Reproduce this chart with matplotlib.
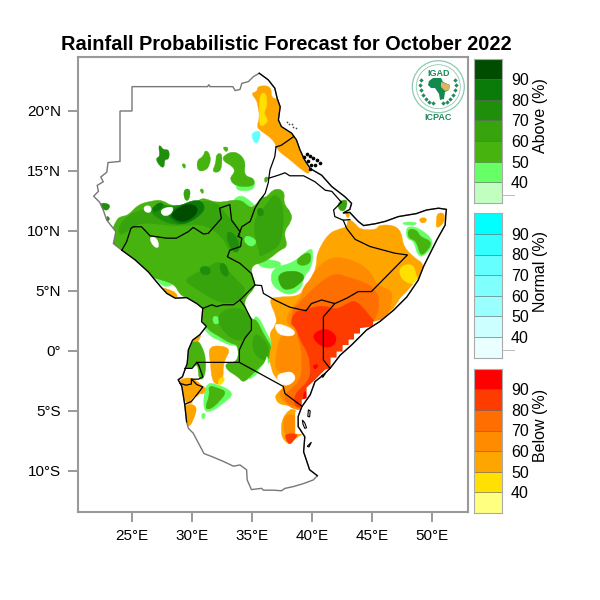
"""Rainfall probabilistic forecast map, October 2022."""
import matplotlib
matplotlib.use('Agg')
import matplotlib.pyplot as plt
from matplotlib.patches import Polygon, Circle, PathPatch
from matplotlib.path import Path

plt.rcParams['font.family'] = ['Liberation Sans', 'DejaVu Sans']

# category colours, lowest bin first
above_colors = ['#c0ffc0', '#66ff66', '#46b30f', '#37a30d', '#1f8e0b', '#0a7a08', '#004d00']
normal_colors = ['#eaffff', '#ccffff', '#99ffff', '#80ffff', '#66ffff', '#33ffff', '#00ffff']
below_colors = ['#ffff80', '#ffe000', '#ffa500', '#ff8c00', '#ff6e00', '#ff3c00', '#ff0000']
bar_labels = ['40', '50', '60', '70', '80', '90']
lon_ticks = [25, 30, 35, 40, 45, 50]
lat_ticks = [-10, -5, 0, 5, 10, 15, 20]
lat_labels = ['10°S', '5°S', '0°', '5°N', '10°N', '15°N', '20°N']

# region outline (lon, lat)
outline = [(25, 22.03), (31.3, 22.03), (31.4, 22.2), (31.5, 22.03), (33.4, 22.03), (33.6, 21.7), (34, 21.8),
           (34.15, 22.3), (34.7, 22.45), (35.1, 22.85), (35.6, 23.15), (36.35, 22.6), (36.9, 21.9), (37.1, 21.05),
           (37.35, 20.35), (37.2, 19.25), (37.45, 18.7), (38.3, 18.15), (38.7, 17.6), (39, 16.75), (39.4, 15.9),
           (39.85, 15.2), (40.8, 14.65), (41.65, 13.7), (42.75, 12.85), (43.3, 12.3), (43.15, 11.8), (42.6, 11.5),
           (43.15, 11.55), (43.85, 10.8), (44.3, 10.45), (45.25, 10.6), (46.1, 10.8), (47.2, 11.2), (48.7, 11.45),
           (49.55, 11.75), (50.55, 11.9), (51.2, 11.8), (51.15, 11.3), (51.1, 10.5), (50.4, 9.25), (49.85, 8.15),
           (49.3, 7.05), (48.85, 5.9), (47.9, 4.5), (46.8, 3.4), (45.65, 2.45), (44.55, 1.75), (43.3, 0.5),
           (42.35, -0.35), (41.5, -1.45), (40.95, -2), (40.25, -2.55), (39.85, -3.65), (39.15, -4.65), (38.85, -5.45),
           (38.85, -6.3), (39.4, -7.15), (39.3, -8.4), (39.8, -9.9), (40.45, -10.4), (40.1, -10.75), (39.3, -11.05),
           (38.45, -11.3), (37.75, -11.45), (37.45, -11.65), (36.8, -11.6), (35.95, -11.6), (35.8, -11.45),
           (34.95, -11.55), (34.6, -10.75), (34.55, -9.9), (34, -9.5), (33.45, -9.6), (32.6, -9.2), (31.65, -8.8),
           (31, -8.55), (30.55, -7.7), (30.1, -6.85), (29.7, -6.45), (29.55, -5.9), (29.4, -4.5), (29.15, -2.95),
           (28.85, -2.4), (29.2, -2.15), (29.4, -1.6), (29.6, -1.05), (29.7, 0.1), (30.05, 0.9), (30.65, 1.35),
           (31.2, 2.05), (30.8, 2.45), (30.9, 3.55), (30.4, 3.95), (29.55, 4.45), (28.6, 4.4), (27.9, 4.8),
           (27.35, 5.4), (26.35, 6.6), (25.25, 7.6), (24.15, 8.4), (23.45, 8.95), (23.65, 9.95), (22.9, 10.9),
           (22.6, 11.75), (22.3, 12.4), (21.8, 12.9), (22.2, 13.3), (22.1, 13.8), (22.6, 14.1), (22.4, 14.5),
           (22.9, 14.9), (23, 15.7), (24, 15.8), (24, 20), (25, 20)]

# internal borders
borders = [
    [(24.15, 8.4), (24.55, 9.1), (24.9, 10.2), (25.1, 10.35), (25.8, 10.35), (26.5, 9.6), (27.9, 9.4), (28.7, 9.4),
     (29.7, 9.95), (30.1, 10.3), (30.95, 9.75), (31.35, 9.8), (32.45, 11.05), (32.3, 11.9), (33.15, 12.2), (33.3, 10.9),
     (34, 9.95), (33.85, 9.55)],
    [(37, 17), (36.9, 16.2), (36.5, 15.1), (36.35, 14), (36.1, 13.15), (35.65, 12.55), (35.25, 11.9), (34.85, 10.8),
     (34.15, 10.35), (33.85, 9.55), (34.15, 9.4), (34.05, 8.7), (33.15, 8.4), (32.95, 7.85), (34, 7.3), (34.95, 6.45),
     (35.25, 5.5), (35.8, 5.45), (35.95, 4.8), (36.9, 4.25), (38.15, 3.65), (39.5, 3.35), (39.95, 3.95), (40.8, 4.25),
     (41.9, 3.95), (42.9, 4.4), (43.85, 4.95), (44.95, 4.95), (47.95, 8), (46.9, 8.15), (44.85, 8.7), (43.6, 9.3),
     (42.9, 10.2), (42.6, 10.9), (41.9, 11.2), (41.8, 11.75), (42.45, 12.4)],
    [(38.45, 17.85), (37.45, 17.15), (37, 17)],
    [(36.4, 14.4), (37.2, 14.65), (37.75, 14.85), (38.15, 14.6), (39.3, 14.6), (40.25, 14.1), (41.1, 13.4), (41.65, 13.3),
     (42.45, 12.4)],
    [(42.6, 10.9), (43.15, 10.95)],
    [(35.25, 5.5), (34, 4.25), (33.45, 3.85), (32.6, 3.85), (32.05, 3.7), (31.65, 3.85), (30.9, 3.55)],
    [(34, 4.25), (34.4, 3.7), (34.95, 2.6), (34.95, 1.75), (34.4, 1.05), (33.95, 0.1), (33.95, -0.95), (30.4, -0.95),
     (30, -1.45), (29.4, -1.45)],
    [(33.95, -0.95), (37.6, -2.95), (37.75, -3.55), (39.15, -4.6)],
    [(30.4, -0.95), (30.55, -1.15), (30.9, -2.15), (30.55, -2.35), (29.95, -2.35), (29.95, -2.75), (29.5, -2.85), (29, -2.7)],
    [(29.95, -2.35), (30.4, -2.8), (30.9, -3), (30.4, -3.65), (29.95, -4.2), (29.4, -4.45)],
    [(41.9, 3.95), (40.95, 2.85), (40.95, -0.75), (41.5, -1.45)],
]

# forecast areas, drawn from light to dark so that the stronger bins sit on top
above_50 = [
    [(33.2, 12.3), (34, 13.1), (35, 12.4), (35.3, 12), (34, 12.2)],
    [(30.6, 3.8), (30.75, 2.3), (31.4, 1.3), (32.2, 0.9), (33.6, 0.3), (34, 0.9), (32.8, 1.9), (31.8, 2.5), (31.4, 3.6)],
    [(36.8, 7), (38.4, 7.3), (39.8, 8.55), (40.1, 8.4), (40, 7), (39.3, 6.2), (39.15, 5.2), (38.15, 4.6), (37.05, 5.1), (36.5, 5.9)],
    [(26.7, 6.3), (27.8, 6.2), (28.7, 5.7), (27.7, 5.2)],
    [(35.3, 7.7), (37.5, 7.5), (37.3, 6.9), (35.7, 6.9)],
    [(30.75, -5.2), (31.2, -5.2), (30.9, -5.85)],
    [(31.1, -2.7), (32, -2.7), (33.6, -3.5), (32.7, -4.3), (31.6, -5.1), (30.9, -5)],
    [(47.55, 10.75), (48.7, 10.75), (48.7, 10.5), (47.6, 10.5)],
    [(47.8, 10.4), (48.9, 10.3), (50.3, 9.1), (49.4, 7.9), (48.8, 7.9), (48.5, 9.2), (47.9, 9.3)],
    [(33.7, 14), (35.1, 14.5), (35.3, 13.4), (33.7, 13.3)],
    [(35.1, 2.9), (35.6, 2.8), (36.2, 1.5), (36.9, 0.3), (36.9, -0.5), (36.1, -1.3), (35.2, -2.1), (34.6, -2.5), (35.3, -1), (35, 0.6)],
]
above_60 = [
    [(23.7, 10.9), (24, 11.2), (24.7, 11.3), (25.5, 12.2), (26.6, 12.5), (27.5, 12.6), (28.4, 12), (30.4, 12.4), (30.9, 12.8),
     (32.1, 12.3), (34, 12.7), (34.7, 12), (35.2, 12), (35.9, 13), (36.1, 12.7), (36.9, 13.6), (37.75, 13.3), (37.6, 12.3),
     (38.3, 11.5), (38.3, 10.8), (37.6, 9.9), (38, 8.7), (37.3, 8.4), (36.5, 7.7), (35.7, 7.3), (35.1, 7.2), (34.9, 6.6),
     (35.4, 5.4), (34.4, 4.4), (34.4, 3.55), (35, 2.6), (35.4, 2.6), (36, 1.3), (36.65, 0.35), (36.65, -0.35), (35.95, -1.05),
     (35.1, -1.85), (34.3, -2.7), (33.85, -2.15), (32.9, -1.6), (32.75, -1), (33.85, -0.9), (33.85, 0.5), (33.15, 0.65),
     (32.05, 1.35), (31.35, 1.75), (30.8, 2.6), (30.8, 3.55), (29.95, 4.25), (29, 4.65), (28.6, 5.5), (27.6, 5.9),
     (26, 6.3), (24.8, 7.3), (23.7, 8.1), (23, 9), (23.3, 10)],
    [(29.5, -1.5), (29.6, -0.2), (29.97, 0.74), (30.4, 0.9), (30.8, 0.5), (31.2, -0.75), (31.05, -2.3), (30.55, -2.4),
     (30.5, -1), (29.97, -1.45)],
    [(31.35, -2.85), (32.2, -3.1), (32.9, -3.4), (32.3, -4.2), (31.5, -4.9), (31.05, -4.75), (31.5, -3.7)],
    [(48, 10.2), (48.75, 10.1), (49, 9.5), (50.1, 9.1), (49.4, 8.1), (49, 8), (48.7, 9.2), (48, 9.4)],
    [(32.6, 16.3), (33.6, 16.7), (34.5, 15.9), (34.3, 14.6), (35.2, 14.4), (35.2, 13.7), (33.6, 13.7), (33.1, 14.4),
     (33.6, 14.9), (33.4, 15.4), (32.6, 15.8)],
    [(30.4, 15.9), (30.45, 15), (31.1, 15), (31.5, 15.5), (31.55, 16.35), (31.1, 16.8), (30.95, 16.2)],
    [(32, 16.4), (32.5, 16.5), (32.5, 15.65), (32.35, 14.9), (31.65, 14.9), (32, 15.65)],
    [(32.5, 17), (33.05, 17), (32.9, 16.5)],
    [(29.1, 15.6), (29.5, 15.6), (29.4, 15.1)],
    [(30.6, 13.5), (31, 13.5), (30.9, 13)],
    [(36, 14.5), (36.45, 14.5), (36.1, 13.9)],
    [(38.6, 7.6), (39.85, 8.4), (39.95, 7.3), (39, 7.05)],
]
above_70 = [
    [(23.85, 10.35), (24.55, 11.2), (25.65, 11.75), (27.35, 12), (30.1, 12.15), (31.2, 12.6), (32.35, 12.15), (32.9, 11.2),
     (34, 10.35), (34.15, 8.4), (33.15, 8.15), (32.6, 9.5), (30.95, 10.65), (28.7, 10.35), (26.8, 10.65), (25.4, 10.65), (24, 9.5)],
    [(30.4, 6.5), (31.2, 6.9), (32.35, 7.6), (33.15, 6.5), (34, 5.65), (34.55, 5.1), (33.7, 4), (32.35, 4), (30.95, 4.8),
     (30.1, 5.35), (29.3, 5.9)],
    [(32.05, 2.85), (32.9, 3.55), (34.4, 3.55), (35, 2.3), (34.55, 1.05), (33.7, 0.8), (32.6, 1.6)],
    [(35.25, 1.5), (35.95, 1.05), (36.5, 0.1), (36.1, -0.9), (35.25, -0.35), (35, 0.65)],
    [(36.1, 12), (36.8, 13.15), (37.45, 12.6), (37.6, 11.45), (37.6, 10.35), (37.3, 8.7), (36.2, 8.15), (35.65, 7.85),
     (35.65, 8.15), (35.1, 10.1), (35.4, 11.45)],
    [(37.05, 6.45), (38.6, 6.75), (39.55, 6.2), (38.7, 5.35), (38.05, 5.1), (37.45, 5.2)],
    [(29.3, 13.5), (29.9, 13.5), (29.75, 12.5), (29.35, 12.6)],
    [(42.1, 12.4), (43, 12.7), (42.8, 11.65), (42.25, 11.7)],
]
above_80 = [
    [(26.35, 11.75), (27.35, 12.3), (28.15, 12), (29.55, 12.25), (30.5, 12.6), (31.2, 12), (30.65, 11.2), (29.55, 10.65),
     (28.6, 10.5), (27.35, 10.9)],
    [(32.9, 10.1), (33.7, 9.6), (34, 8.5), (33.6, 8.1), (32.95, 9)],
    [(35.4, 11.9), (35.9, 11.9), (36, 11.3), (35.5, 11.2)],
    [(30.6, 7), (31.4, 7.1), (31.6, 6.4), (30.8, 6.3)],
    [(32.3, 7.4), (32.9, 7.2), (33.1, 6.1), (32.4, 6.4)],
    [(27.2, 17.1), (27.4, 17.1), (27.6, 16.75), (28.1, 16.8), (28.1, 15.95), (27.7, 16), (27.7, 15.25), (27.3, 15.4), (26.95, 16.05),
     (27.35, 16.2)],
    [(22.4, 12.4), (23.25, 12.2), (22.95, 11.65), (22.4, 11.9)],
    [(22.85, 11.3), (23.2, 11.05), (22.95, 10.75)],
]
above_90 = [
    [(27.9, 11.45), (29.4, 12.35), (30.65, 12.65), (31.1, 12), (30.55, 11.2), (29.3, 10.5), (28.45, 10.8)],
    [(26.65, 11.9), (27.35, 12.45), (27.7, 12.1), (26.9, 11.5)],
]
above_top = [
    [(28.2, 11.45), (29.55, 12.35), (30.55, 12), (30.3, 11.25), (29.3, 10.7), (28.5, 11)],
]

below_50 = [
    [(42.95, 11.05), (43.6, 10.65), (44, 10.1), (45.4, 10.1), (45.55, 10.5), (46.8, 10.5), (47.45, 9.95), (47.6, 8.7), (48.6, 7.7),
     (49.3, 7.3), (49.3, 6), (48, 4.2), (46, 2), (43, -0.6), (41, -2.5), (39.9, -4), (39.3, -4.9), (38.3, -4.8), (38.05, -4.5),
     (37.35, -4.5), (36.9, -3.95), (37.05, -3.55), (37.75, -2.95), (37.35, -2.55), (36.9, -2.15), (36.65, -1.6), (36.4, -0.45),
     (36.7, 0.65), (36.4, 1.45), (37, 2.15), (37.05, 2.85), (36.4, 4.25), (36.9, 4.5), (39, 4.55), (39.3, 5.35), (40.1, 6.2), (40.4, 7.3),
     (40.4, 8.15), (41.35, 9.8), (42.35, 10.2), (42.95, 10.35)],
    [(37.5, -5.6), (38.3, -4.7), (38.9, -5.2), (38.9, -6.9), (39.3, -6.9), (38.7, -7.2), (38.15, -7.8), (37.7, -7.5), (37.4, -6.9)],
    [(34.9, 21.5), (35.45, 21.6), (35.45, 22.1), (36.6, 22.1), (36.6, 21.05), (37.3, 21), (37.5, 19.5), (37.5, 18.5), (38.7, 17.9),
     (39.1, 16.75), (39.5, 15.8), (39.9, 14.6), (39, 15.2), (38.05, 16.05), (37.45, 16.45), (37.05, 16.9), (36.8, 17.6),
     (35.65, 18.4), (35.4, 18.7), (35.65, 19.5), (35.5, 20.35), (35.4, 20.9)],
    [(31.35, 0.2), (32.05, 0.5), (33.3, 0.2), (32.6, -0.9), (32.6, -2.55), (32.05, -2.85), (31.65, -2.4), (31.55, -1.05)],
    [(28.85, -2.4), (29.95, -2.15), (30.9, -2.95), (31.2, -3.1), (30.95, -3.65), (30.55, -3.5), (30.1, -4.4), (29.4, -4.4), (29.2, -2.95)],
    [(29.3, -4.4), (30.5, -4.5), (30.1, -5.85), (29.7, -6.4), (29.4, -5.6)],
    [(30, 0.9), (30.7, 1.5), (30.7, 1), (30.3, 0.7)],
    [(27.3, 5.3), (27.9, 5.2), (28.8, 4.8), (28.7, 4.3), (27.9, 4.55)],
    [(50.45, 11.5), (51.05, 11.5), (51.05, 10.7), (50.35, 10.15), (50.35, 10.9)],
    [(48.95, 11.1), (49.6, 11.1), (49.45, 10.65), (49, 10.7)],
    [(42.7, 11.65), (43.2, 11.55), (43, 10.95)],
]
below_60 = [
    [(40.25, 6.75), (41.5, 7.85), (43.15, 7.7), (44.85, 6.75), (45.25, 5.65), (46.2, 5.2), (46.8, 4.8), (46.3, 2.8), (44, 0.8),
     (42, -1.2), (40.3, -3), (39.3, -4.9), (38.6, -4.9), (37.6, -4.25), (37.2, -3.5), (37.75, -2.95), (38.6, -2.4), (38.3, -1.85),
     (37.3, -1.85), (36.9, -1.3), (37.05, 0), (37.35, 1.35), (38.45, 1.35), (38.6, 1.75), (37.75, 2.45), (38.15, 3.4), (39.15, 4.55),
     (39.3, 5.35), (39.85, 5.9)],
    [(37.55, -5.6), (38.2, -5.2), (38.8, -5.6), (38.8, -6.9), (37.75, -7.2)],
]
below_70 = [
    [(40.4, 5.5), (41.8, 6.5), (42.9, 6.2), (44.55, 5.65), (45.1, 5.2), (45.65, 4.5), (45.4, 2.6), (44, 1.5), (43, 0), (41.2, -2),
     (40, -3.5), (39.3, -4.7), (38, -4.5), (37.6, -3.65), (38.6, -2.95), (39.15, -2), (39.15, -1.15), (39.15, -0.05),
     (38.85, 1.05), (38.6, 2), (38.15, 3.15), (39.15, 4.25)],
]
below_80 = [
    [(39.3, 3.4), (40.95, 3.85), (42, 3.4), (43, 4), (43.7, 4.25), (45, 2.7), (45.5, 2.1), (44.85, 1.2), (43.7, 0.1), (42, -1.3),
     (41, -2.4), (40.1, -3.2), (39.55, -4.6), (38.6, -4.8), (38.45, -3.65), (39.85, -2.4), (39.85, -1.15), (39.7, -0.2), (39, 0.9),
     (38.7, 1.9), (38.15, 2.3), (38.6, 3.3)],
    [(37.7, -6.9), (38.9, -6.9), (38.5, -7.4), (38.15, -7.85), (37.85, -7.4)],
]
below_90 = [
    [(40.4, 1.7), (41.35, 1.85), (42.1, 1.2), (41.85, 0.4), (40.95, 0.25), (40, 1.05)],
    [(40, -1.2), (40.6, -1.1), (40.3, -1.6)],
    [(39.4, -3.3), (39.65, -3.6), (39.5, -4.2), (39.2, -4)],
]
below_yellow = [
    [(47.2, 7.05), (48.45, 7.3), (48.7, 6.2), (48.9, 5.9), (48.5, 5.5), (47.45, 5.9)],
    [(35.65, 21.5), (36.2, 21.5), (36.25, 20.35), (35.95, 19.8), (36.35, 19.25), (36.1, 18.85), (35.65, 18.7), (35.6, 19.5)],
    [(32.3, -2.2), (32.75, -2.2), (32.6, -2.7), (32.1, -2.9)],
]
normal_spot = [[(35, 18.2), (35.7, 18.4), (35.65, 17.7), (35.35, 17.2), (35, 17.7)]]
clear_spots = [
    [(26.4, 9.5), (27.05, 9.5), (27.3, 8.6), (26.8, 8.65)],
    [(27.3, 11.8), (28.5, 12.1), (28.3, 11.4), (27.6, 11.2)],
    [(26, 12.1), (26.6, 12.1), (26.6, 11.5), (26, 11.6)],
    [(36.9, -2.1), (37.75, -1.75), (38.4, -1.75), (38.7, -2.4), (37.75, -3.05)],
    [(36.95, 2.4), (38.55, 1.8), (38.55, 1.25), (37.5, 1.25), (36.95, 1.7)],
    [(29.8, -4.2), (30.45, -3.6), (30.35, -4.4)],
    [(36.3, -0.2), (36.1, -1), (35.6, -1.5), (35.4, -2.2), (34.6, -2.6), (35.6, -2.7), (36.3, -1.9)],
]
bright_spots = [[(34.5, 9.7), (35.5, 9.2), (35, 8.6), (34.3, 9.1)],
                [(31.7, 2.9), (32.2, 2.9), (32.3, 2.3), (31.8, 2.2)]]

# white stairs that the coarse forecast grid leaves along the coast
coast_gap = [(49.3, 6.2), (48.7, 5.9), (47.9, 4.95), (47.35, 4.4), (46.8, 3.55), (45.8, 2.6), (45.1, 2.45), (45.1, 2.05), (44, 1.9), (44, 1.45),
             (43.5, 1.45), (43.5, 0.95), (43.05, 0.95), (43.05, 0.5), (42.55, 0.5), (42.55, -0.05), (42.05, -0.05), (42.05, -0.55),
             (41.55, -0.55), (41.55, -1.45), (41.1, -1.55), (40.1, -2.55), (39.55, -3.05), (39.55, -3.95), (39.15, -4.05), (39.15, -4.65),
             (39.05, -5.05), (38.6, -5.05), (38.6, -6.9), (39.5, -6.95), (41, -5), (50, 3)]

dahlak_lon = [39.3, 39.55, 39.85, 40.1, 40.4, 40.65, 39.7, 39.95, 40.25, 39.85]
dahlak_lat = [16.2, 16.45, 16.25, 16.05, 15.9, 15.65, 15.8, 15.5, 15.5, 15.2]
suakin_lon = [37.9, 38.3, 38.7, 38.45, 38.1]
suakin_lat = [19.1, 18.9, 18.55, 18.7, 18.95]
islands = [[(39.7, -4.9), (39.85, -5), (39.8, -5.5), (39.65, -5.45)],
           [(39.2, -5.75), (39.4, -6), (39.55, -6.4), (39.4, -6.45), (39.25, -6.1)],
           [(39.95, -7.6), (39.75, -8), (39.6, -7.95)],
           [(40.8, -2.05), (41.1, -1.9), (40.9, -2.2)]]

laurel_x = [421, 420, 421, 423, 426, 429, 433, 455, 456, 455, 453, 450, 447, 443]
laurel_y = [80, 85, 90, 95, 99, 102, 103, 80, 85, 90, 95, 99, 102, 103]
africa_x = [429, 433, 441, 443, 450, 449, 445, 444, 440, 439, 435, 431, 428]
africa_y = [81, 78, 78, 82, 85, 90, 92, 99, 100, 94, 88, 88, 85]
horn_x = [441, 447, 450, 449, 445, 441]
horn_y = [82, 84, 85, 90, 91, 87]

fig = plt.figure(figsize=(6, 6), dpi=100)
ax = fig.add_axes([78 / 600, 88 / 600, 390 / 600, 455 / 600])

land = Polygon(outline, closed=True, facecolor='white', edgecolor='none')
ax.add_patch(land)


def round_path(poly):
    # soft edges: corners become control points of quadratic curves
    mids = [((a[0] + b[0]) / 2, (a[1] + b[1]) / 2) for a, b in zip(poly, poly[1:] + poly[:1])]
    verts = [mids[-1]]
    codes = [Path.MOVETO]
    for pt, mid in zip(poly, mids):
        verts += [pt, mid]
        codes += [Path.CURVE3, Path.CURVE3]
    return Path(verts, codes)


def fill_areas(polys, color):
    for poly in polys:
        patch = PathPatch(round_path(poly), facecolor=color, edgecolor=color, linewidth=0.3)
        ax.add_patch(patch)
        patch.set_clip_path(land)


fill_areas(above_50, above_colors[1])
fill_areas(above_60, above_colors[2])
fill_areas(bright_spots, above_colors[1])
fill_areas(above_70, above_colors[3])
fill_areas(above_80, above_colors[4])
fill_areas(above_90, above_colors[5])
fill_areas(above_top, above_colors[6])
fill_areas(below_50, below_colors[2])
fill_areas(below_yellow, below_colors[1])
fill_areas(below_60, below_colors[3])
fill_areas(below_70, below_colors[4])
fill_areas(below_80, below_colors[5])
fill_areas(below_90, below_colors[6])
fill_areas(normal_spot, normal_colors[4])
fill_areas(clear_spots, 'white')

gap = Polygon(coast_gap, closed=True, facecolor='white', edgecolor='none')
ax.add_patch(gap)
gap.set_clip_path(land)

ax.add_patch(Polygon(outline, closed=True, fill=False, edgecolor='#777777', linewidth=1.0))
coast_start = outline.index((35.6, 23.15))
coast_end = outline.index((40.45, -10.4)) + 1
lakes_start = outline.index((29.55, -5.9))
lakes_end = outline.index((24.15, 8.4)) + 1
for part in [outline[coast_start:coast_end], outline[lakes_start:lakes_end]]:
    ax.plot([p[0] for p in part], [p[1] for p in part], color='black', linewidth=0.9)
for line in borders:
    ax.plot([p[0] for p in line], [p[1] for p in line], color='black', linewidth=0.9)
for isl in islands:
    ax.add_patch(Polygon(isl, closed=True, fill=False, edgecolor='black', linewidth=0.8))
ax.scatter(dahlak_lon, dahlak_lat, s=7, color='black', linewidths=0)
ax.scatter(suakin_lon, suakin_lat, s=1.5, color='#444444', linewidths=0)

ax.set_xlim(20.5, 53)
ax.set_ylim(-13.42, 24.5)
ax.set_xticks(lon_ticks)
ax.set_xticklabels([f'{v}°E' for v in lon_ticks], fontsize=11)
ax.set_yticks(lat_ticks)
ax.set_yticklabels(lat_labels, fontsize=11)
ax.tick_params(length=7, width=1.4, color='#999999', pad=5)
for spine in ax.spines.values():
    spine.set_color('#999999')
    spine.set_linewidth(1.5)

fig.text(286 / 600, 1 - 44.5 / 600, 'Rainfall Probabilistic Forecast for October 2022',
         ha='center', va='center', fontsize=14.4, fontweight='bold')

# three stacked colour bars
bar_tops = [58.5, 213.3, 368.7]
bar_titles = ['Above (%)', 'Normal (%)', 'Below (%)']
bar_colors = [above_colors, normal_colors, below_colors]
title_y = [116, 271, 425]
for top, name, colors, ty in zip(bar_tops, bar_titles, bar_colors, title_y):
    cax = fig.add_axes([474 / 600, 1 - (top + 144.2) / 600, 28 / 600, 144.2 / 600])
    cax.bar(0.5, [1] * 7, width=1, bottom=list(range(7)), color=colors, edgecolor='#55555580', linewidth=0.6)
    cax.set_xlim(0, 1)
    cax.set_ylim(0, 7)
    cax.set_xticks([])
    cax.yaxis.tick_right()
    cax.set_yticks(range(1, 7))
    cax.set_yticklabels(bar_labels, fontsize=11.5)
    cax.tick_params(length=0, pad=6.5)
    for spine in cax.spines.values():
        spine.set_color('#aaaaaa')
        spine.set_linewidth(0.8)
    fig.text(541 / 600, 1 - ty / 600, name, rotation=90, ha='center', va='center', fontsize=11.5)

# small leftover ticks next to the bars
for y in [195, 350]:
    fig.add_artist(plt.Line2D([502 / 600, 514 / 600], [1 - y / 600, 1 - y / 600], color='#bbbbbb', linewidth=0.7))

# IGAD ICPAC logo, in figure pixels
logo = fig.add_axes([400 / 600, 1 - 130 / 600, 70 / 600, 80 / 600])
logo.set_xlim(400, 470)
logo.set_ylim(130, 50)
logo.axis('off')
logo.add_patch(Circle((438.3, 86.7), 26, fill=False, edgecolor='#8fc9b0', linewidth=0.9))
logo.add_patch(Circle((438.3, 86.7), 22, fill=False, edgecolor='#8fc9b0', linewidth=0.6))
logo.scatter(laurel_x, laurel_y, s=5, color='#1f8a5a', linewidths=0, marker='D')
logo.fill(africa_x, africa_y, color='#128a4f', linewidth=0)
logo.fill(horn_x, horn_y, color='#e3b261', linewidth=0)
logo.text(438.5, 73, 'IGAD', ha='center', va='center', fontsize=6.5, fontweight='bold', color='#1f8a5a')
logo.text(438.5, 118, 'ICPAC', ha='center', va='center', fontsize=6.5, fontweight='bold', color='#1f8a5a')

plt.savefig('out.png', dpi=100)
